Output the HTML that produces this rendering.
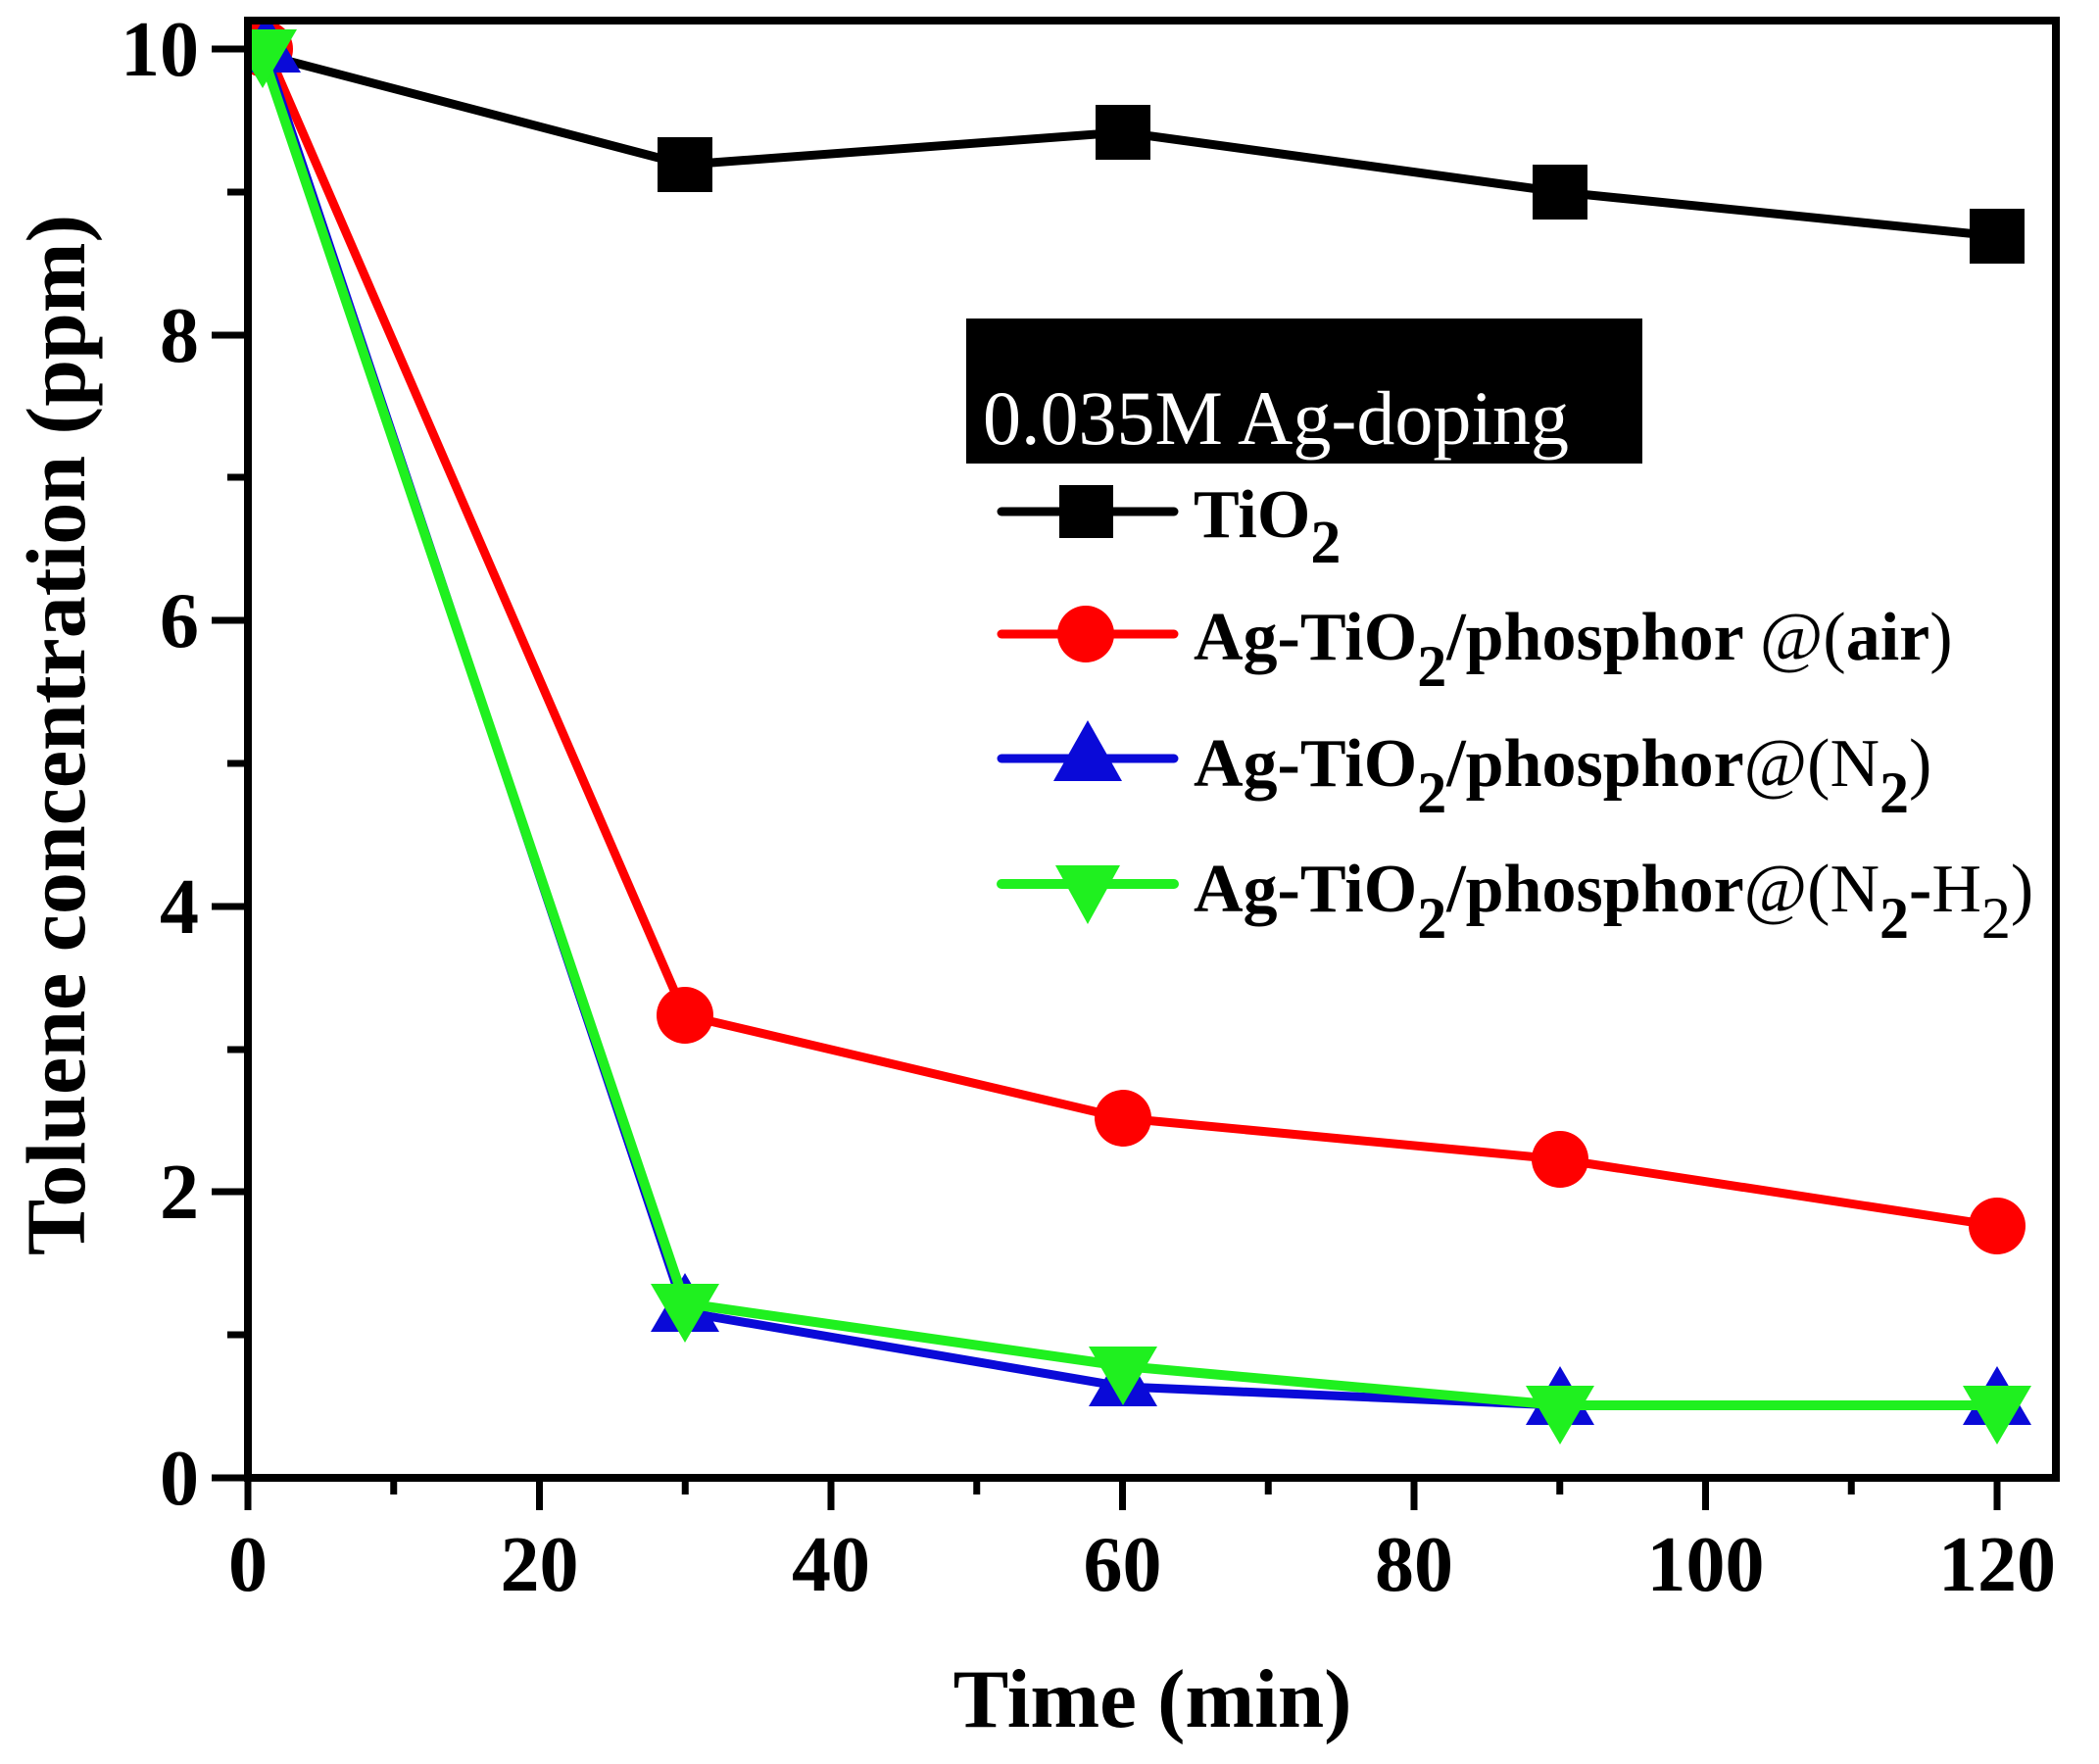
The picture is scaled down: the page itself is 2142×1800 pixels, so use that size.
<!DOCTYPE html>
<html>
<head>
<meta charset="utf-8">
<style>
  html, body { margin:0; padding:0; background:#fff; }
  svg { display:block; }
  text { font-family: "Liberation Serif", "Times New Roman", serif; }
</style>
</head>
<body>
<svg width="2142" height="1800" viewBox="0 0 2142 1800" xmlns="http://www.w3.org/2000/svg">
  <rect x="0" y="0" width="2142" height="1800" fill="#fff"/>
  <defs>
    <clipPath id="plot">
      <rect x="253" y="21" width="1845" height="1487"/>
    </clipPath>
  </defs>

  <g clip-path="url(#plot)" stroke-linejoin="round" stroke-linecap="round">
    <!-- TiO2 black -->
    <polyline fill="none" stroke="#000" stroke-width="9"
      points="270,56 699,168 1146,135 1592,196 2038,241"/>
    <g fill="#000">
      <rect x="250" y="34" width="40" height="40"/>
      <rect x="671" y="140" width="56" height="56"/>
      <rect x="1118" y="107" width="56" height="56"/>
      <rect x="1564" y="168" width="56" height="56"/>
      <rect x="2010" y="213" width="56" height="56"/>
    </g>

    <!-- Red air -->
    <polyline fill="none" stroke="#f00" stroke-width="9"
      points="272,50 699,1036 1146,1141 1592,1183 2038,1251"/>
    <g fill="#f00">
      <circle cx="270" cy="50" r="29"/>
      <circle cx="699" cy="1036" r="29"/>
      <circle cx="1146" cy="1141" r="29"/>
      <circle cx="1592" cy="1183" r="29"/>
      <circle cx="2038" cy="1251" r="29"/>
    </g>

    <!-- Blue N2 -->
    <polyline fill="none" stroke="#0a0ad8" stroke-width="9"
      points="270,52 699,1339 1146,1415 1592,1434 2038,1434"/>
    <g fill="#0a0ad8">
      <polygon points="272,14 307,74 237,74"/>
      <polygon points="699,1299 734,1359 664,1359"/>
      <polygon points="1146,1375 1181,1435 1111,1435"/>
      <polygon points="1592,1394 1627,1454 1557,1454"/>
      <polygon points="2038,1394 2073,1454 2003,1454"/>
    </g>

    <!-- Green N2-H2 -->
    <polyline fill="none" stroke="#1ff01f" stroke-width="10"
      points="266,50 699,1330 1146,1394 1592,1434 2038,1434"/>
    <g fill="#1ff01f">
      <polygon points="233,30 303,30 268,90"/>
      <polygon points="664,1310 734,1310 699,1370"/>
      <polygon points="1111,1374 1181,1374 1146,1434"/>
      <polygon points="1557,1414 1627,1414 1592,1474"/>
      <polygon points="2003,1414 2073,1414 2038,1474"/>
    </g>
  </g>

  <!-- Frame -->
  <rect x="253" y="21" width="1845" height="1487" fill="none" stroke="#000" stroke-width="8"/>

  <!-- Y ticks -->
  <g stroke="#000" stroke-width="7">
    <line x1="216" y1="1508" x2="253" y2="1508"/>
    <line x1="216" y1="1216" x2="253" y2="1216"/>
    <line x1="216" y1="925" x2="253" y2="925"/>
    <line x1="216" y1="633" x2="253" y2="633"/>
    <line x1="216" y1="342" x2="253" y2="342"/>
    <line x1="216" y1="50" x2="253" y2="50"/>
    <line x1="232" y1="1362" x2="253" y2="1362"/>
    <line x1="232" y1="1071" x2="253" y2="1071"/>
    <line x1="232" y1="779" x2="253" y2="779"/>
    <line x1="232" y1="487" x2="253" y2="487"/>
    <line x1="232" y1="196" x2="253" y2="196"/>
  </g>
  <!-- X ticks -->
  <g stroke="#000" stroke-width="7">
    <line x1="253" y1="1508" x2="253" y2="1541"/>
    <line x1="550.5" y1="1508" x2="550.5" y2="1541"/>
    <line x1="848" y1="1508" x2="848" y2="1541"/>
    <line x1="1145.5" y1="1508" x2="1145.5" y2="1541"/>
    <line x1="1443" y1="1508" x2="1443" y2="1541"/>
    <line x1="1740.5" y1="1508" x2="1740.5" y2="1541"/>
    <line x1="2038" y1="1508" x2="2038" y2="1541"/>
    <line x1="401.75" y1="1508" x2="401.75" y2="1525"/>
    <line x1="699.25" y1="1508" x2="699.25" y2="1525"/>
    <line x1="996.75" y1="1508" x2="996.75" y2="1525"/>
    <line x1="1294.25" y1="1508" x2="1294.25" y2="1525"/>
    <line x1="1591.75" y1="1508" x2="1591.75" y2="1525"/>
    <line x1="1889.25" y1="1508" x2="1889.25" y2="1525"/>
  </g>

  <!-- Y tick labels -->
  <g font-size="80" font-weight="bold" text-anchor="end" fill="#000">
    <text x="203" y="1535">0</text>
    <text x="203" y="1243">2</text>
    <text x="203" y="952">4</text>
    <text x="203" y="660">6</text>
    <text x="203" y="369">8</text>
    <text x="203" y="77">10</text>
  </g>
  <!-- X tick labels -->
  <g font-size="80" font-weight="bold" text-anchor="middle" fill="#000">
    <text x="253" y="1623">0</text>
    <text x="550.5" y="1623">20</text>
    <text x="848" y="1623">40</text>
    <text x="1145.5" y="1623">60</text>
    <text x="1443" y="1623">80</text>
    <text x="1740.5" y="1623">100</text>
    <text x="2038" y="1623">120</text>
  </g>

  <!-- Axis titles -->
  <text x="1176" y="1762" font-size="85" font-weight="bold" text-anchor="middle">Time (min)</text>
  <text transform="translate(86,750) rotate(-90)" font-size="86" font-weight="bold" text-anchor="middle">Toluene concentration (ppm)</text>

  <!-- Legend header box -->
  <rect x="986" y="325" width="690" height="148" fill="#000"/>
  <text x="1003" y="453" font-size="78" fill="#fff">0.035M Ag-doping</text>

  <!-- Legend entries -->
  <g stroke-linecap="round">
    <line x1="1022" y1="522" x2="1198" y2="522" stroke="#000" stroke-width="9"/>
    <rect x="1081" y="495" width="55" height="54" fill="#000"/>

    <line x1="1022" y1="647" x2="1198" y2="647" stroke="#f00" stroke-width="9"/>
    <circle cx="1108" cy="647" r="29" fill="#f00"/>

    <line x1="1022" y1="774" x2="1198" y2="774" stroke="#0a0ad8" stroke-width="9"/>
    <polygon points="1110,735 1145,797 1075,797" fill="#0a0ad8"/>

    <line x1="1022" y1="902" x2="1198" y2="902" stroke="#1ff01f" stroke-width="10"/>
    <polygon points="1077,883 1143,883 1110,943" fill="#1ff01f"/>
  </g>

  <g font-size="70" font-weight="bold" fill="#000">
    <text x="1218" y="548">TiO<tspan font-size="62" dy="26">2</tspan></text>
    <text x="1218" y="673">Ag-TiO<tspan font-size="60" dy="27">2</tspan><tspan dy="-27">/phosphor </tspan><tspan font-weight="normal">@(</tspan>air<tspan font-weight="normal">)</tspan></text>
    <text x="1218" y="802">Ag-TiO<tspan font-size="60" dy="27">2</tspan><tspan dy="-27">/phosphor</tspan><tspan font-weight="normal">@(N</tspan><tspan font-size="60" dy="27">2</tspan><tspan font-weight="normal" dy="-27">)</tspan></text>
    <text x="1218" y="930">Ag-TiO<tspan font-size="60" dy="27">2</tspan><tspan dy="-27">/phosphor</tspan><tspan font-weight="normal">@(N</tspan><tspan font-size="60" dy="27">2</tspan><tspan dy="-27">-</tspan><tspan font-weight="normal">H</tspan><tspan font-size="60" font-weight="normal" dy="27">2</tspan><tspan font-weight="normal" dy="-27">)</tspan></text>
  </g>
</svg>
</body>
</html>
